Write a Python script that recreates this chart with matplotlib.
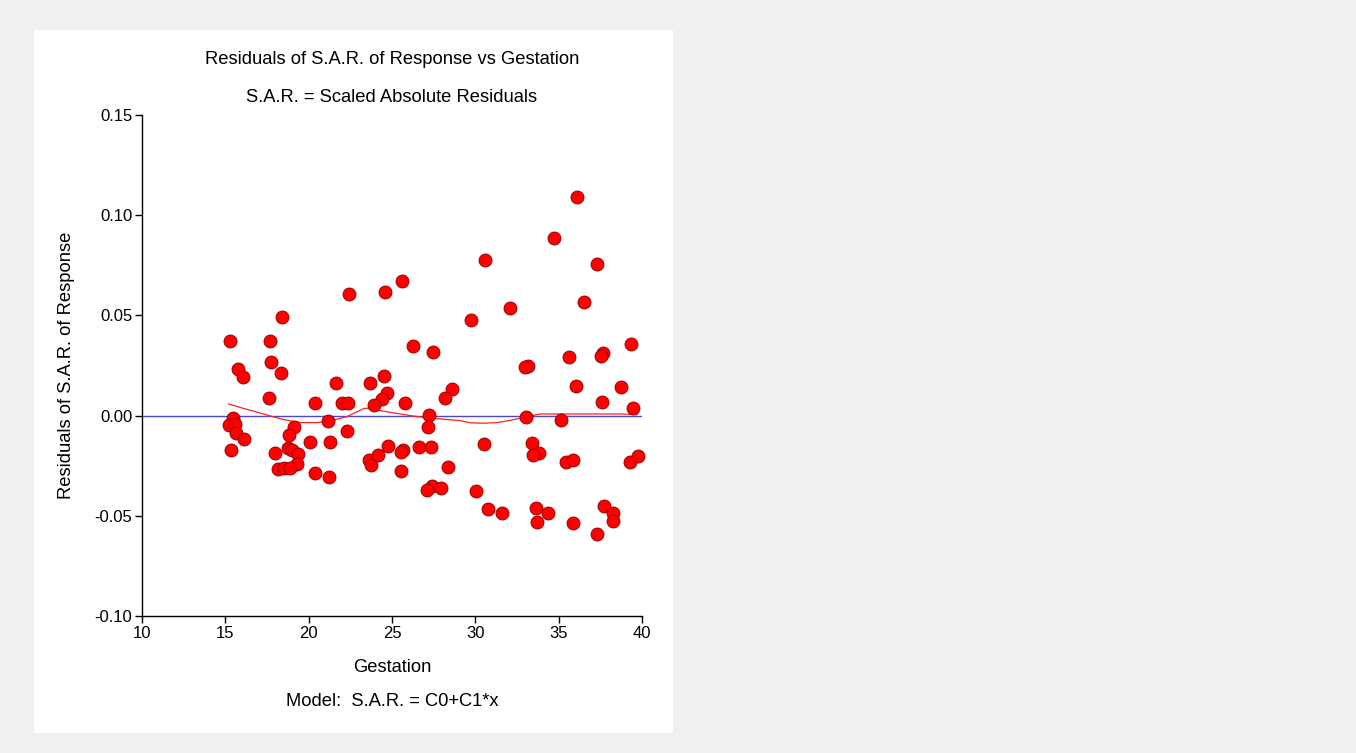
import matplotlib
matplotlib.use("Agg")
import matplotlib.pyplot as plt

plt.rcParams['font.family'] = ['Liberation Sans', 'DejaVu Sans']

gestation = [22.44, 18.38, 15.28, 17.68, 17.72, 15.78, 16.08, 18.32, 21.66, 17.6,
             20.4, 21.98, 22.38, 23.68, 15.44, 15.22, 15.58, 15.62, 16.12, 15.34,
             19.12, 18.84, 21.14, 22.28, 20.08, 21.28, 18.78, 18.98, 19.38, 18.0,
             19.32, 18.18, 18.52, 18.88, 20.38, 21.24, 23.64, 23.72, 30.6, 25.58,
             24.58, 29.76, 26.24, 27.48, 24.5, 24.68, 24.38, 23.92, 25.78, 28.62,
             28.18, 27.24, 27.18, 30.54, 24.74, 24.18, 25.68, 25.52, 26.62, 27.32,
             25.56, 28.36, 27.38, 27.08, 27.94, 30.04, 36.08, 34.72, 37.28, 32.08,
             36.52, 39.36, 35.62, 37.68, 37.56, 33.18, 32.98, 36.06, 38.76, 37.62,
             39.48, 33.06, 35.16, 33.38, 33.82, 33.48, 35.42, 35.86, 39.28, 39.76,
             30.78, 31.62, 33.66, 34.36, 33.68, 35.86, 37.74, 38.28, 38.28, 37.28]
residuals = [0.0607, 0.0490, 0.0371, 0.0371, 0.0269, 0.0233, 0.0191, 0.0211, 0.0161, 0.0090,
             0.0065, 0.0065, 0.0065, 0.0161, -0.0013, -0.0045, -0.0042, -0.0085, -0.0118, -0.0173,
             -0.0057, -0.0097, -0.0025, -0.0078, -0.0130, -0.0130, -0.0160, -0.0170, -0.0193, -0.0185,
             -0.0241, -0.0268, -0.0261, -0.0261, -0.0286, -0.0308, -0.0220, -0.0245, 0.0774, 0.0670,
             0.0617, 0.0478, 0.0349, 0.0316, 0.0200, 0.0111, 0.0085, 0.0055, 0.0063, 0.0135,
             0.0090, 0.0003, -0.0058, -0.0140, -0.0153, -0.0195, -0.0171, -0.0183, -0.0155, -0.0155,
             -0.0278, -0.0256, -0.0349, -0.0371, -0.0363, -0.0378, 0.1089, 0.0887, 0.0757, 0.0539,
             0.0565, 0.0356, 0.0293, 0.0314, 0.0296, 0.0250, 0.0243, 0.0150, 0.0145, 0.0066,
             0.0036, -0.0005, -0.0021, -0.0138, -0.0185, -0.0198, -0.0231, -0.0223, -0.0231, -0.0203,
             -0.0467, -0.0486, -0.0461, -0.0486, -0.0532, -0.0537, -0.0449, -0.0487, -0.0527, -0.0590]

# smoothed (loess) curve
loess_x = [15.2, 16.0, 17.0, 17.7, 18.5, 19.5, 20.5, 21.1, 21.7, 22.3, 22.8, 23.3, 23.7,
           24.3, 25.0, 26.1, 27.0, 28.1, 29.1, 29.7, 30.5, 31.3, 32.0, 32.6, 33.1, 33.9,
           35.0, 37.0, 38.7, 39.7]
loess_y = [0.0058, 0.0038, 0.0015, -0.0002, -0.0020, -0.0035, -0.0035, -0.0030, -0.0018, -0.0005,
           0.0015, 0.0035, 0.0038, 0.0025, 0.0015, 0.0000, -0.0010, -0.0018, -0.0025, -0.0036,
           -0.0038, -0.0035, -0.0025, -0.0015, -0.0005, 0.0008, 0.0008, 0.0008, 0.0008, 0.0005]

x_ticks = [10, 15, 20, 25, 30, 35, 40]
y_ticks = [-0.10, -0.05, 0.00, 0.05, 0.10, 0.15]

W, H = 1356, 753
fig = plt.figure(figsize=(W / 100, H / 100), dpi=100)
fig.patch.set_facecolor('#f0f0f0')

# white panel
panel = plt.Rectangle((34 / W, 1 - 733 / H), (673 - 34) / W, (733 - 30) / H,
                      transform=fig.transFigure, facecolor='white', edgecolor='none', zorder=-5)
fig.patches.append(panel)

ax = fig.add_axes([142 / W, 1 - 616 / H, (642 - 142) / W, (616 - 115) / H])
ax.set_zorder(1)
ax.set_facecolor('white')
ax.set_xlim(10, 40)
ax.set_ylim(-0.10, 0.15)
ax.set_xticks(x_ticks)
ax.set_yticks(y_ticks)
ax.set_yticklabels([f"{v:.2f}" for v in y_ticks])
ax.set_xticklabels([str(v) for v in x_ticks])
for s in ['top', 'right']:
    ax.spines[s].set_visible(False)
for s in ['left', 'bottom']:
    ax.spines[s].set_linewidth(1.0)
    ax.spines[s].set_color('black')
ax.tick_params(axis='both', direction='out', length=5, width=1, labelsize=12, colors='black')
ax.tick_params(axis='x', pad=2)
ax.tick_params(axis='y', pad=2)

ax.axhline(0.0, color='#4a4ad0', linewidth=1.0, zorder=2)
ax.plot(loess_x, loess_y, color='#ff2020', linewidth=0.9, zorder=2)
ax.scatter(gestation, residuals, s=88, facecolor='#ff0000', edgecolor='#8b0000',
           linewidth=0.6, zorder=3, clip_on=False)

ax.set_xlabel('Gestation', fontsize=13.2, labelpad=13)
ax.set_ylabel('Residuals of S.A.R. of Response', fontsize=13.2, labelpad=14)

cx = (142 + 642) / 2 / W
fig.text(cx, 1 - 60 / H, 'Residuals of S.A.R. of Response vs Gestation', ha='center', va='center', fontsize=13.2)
fig.text(cx, 1 - 98 / H, 'S.A.R. = Scaled Absolute Residuals', ha='center', va='center', fontsize=13.2)
fig.text(cx, 1 - 702 / H, 'Model:  S.A.R. = C0+C1*x', ha='center', va='center', fontsize=13.2)

fig.savefig('out.png', dpi=100, facecolor=fig.get_facecolor())
